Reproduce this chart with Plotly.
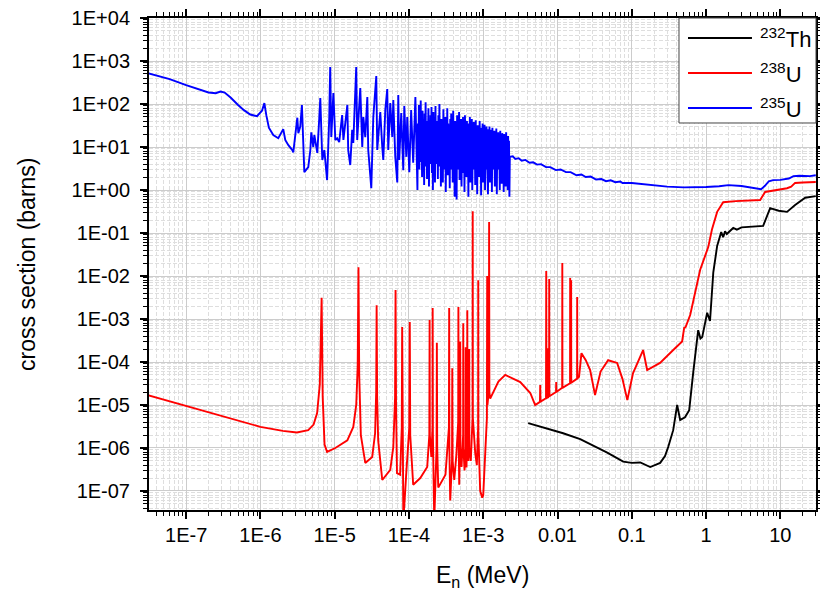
import plotly.graph_objects as go

# ---------------- data (energy in MeV, cross section in barns) ----------------
series_names = ["<sup>232</sup>Th", "<sup>238</sup>U", "<sup>235</sup>U"]
series_colors = ["#000000", "#ff0000", "#0000ff"]

th232_points = [
    (4.03e-3, 3.8e-6), (1.19e-2, 2.2e-6), (2.02e-2, 1.6e-6), (4.67e-2, 7.8e-7),
    (7.66e-2, 4.8e-7), (0.1, 4.5e-7), (0.13, 4.6e-7), (0.177, 3.6e-7),
    (0.241, 4.5e-7), (0.28, 6.5e-7), (0.309, 1.05e-6), (0.361, 2.6e-6),
    (0.408, 1.0e-5), (0.448, 4.5e-6), (0.52, 5.2e-6), (0.593, 7.6e-6),
    (0.67, 5.5e-5), (0.783, 5.5e-4), (0.84, 3.5e-4), (0.887, 3.8e-4),
    (1.035, 1.4e-3), (1.13, 9.0e-4), (1.25, 1.2e-2), (1.41, 5.0e-2),
    (1.6, 0.105), (1.7, 0.08), (1.8, 0.11), (1.9, 0.095), (2.32, 0.131),
    (2.6, 0.12), (3.0, 0.135), (3.57, 0.138), (5.87, 0.146), (7.29, 0.38),
    (9.5, 0.33), (12.3, 0.31), (15.8, 0.45), (21.6, 0.66), (30.0, 0.72),
]

u238_points = [
    (3.0e-8, 1.7e-5), (1.0e-7, 9.5e-6), (3.0e-7, 5.5e-6), (1.0e-6, 3.1e-6),
    (2.0e-6, 2.5e-6), (3.1e-6, 2.3e-6), (4.4e-6, 2.6e-6), (5.2e-6, 3.5e-6),
    (5.8e-6, 6.5e-6), (6.3e-6, 3.0e-5), (6.67e-6, 3.1e-3), (6.9e-6, 1.5e-5),
    (7.3e-6, 1.2e-6), (7.9e-6, 8.1e-7), (1.02e-5, 1.0e-6), (1.48e-5, 1.5e-6),
    (1.78e-5, 3.1e-6), (1.95e-5, 1.0e-5), (2.04e-5, 8.0e-5), (2.09e-5, 1.6e-2),
    (2.14e-5, 5.0e-5), (2.25e-5, 2.0e-6), (2.58e-5, 4.5e-7), (3.2e-5, 6.2e-7),
    (3.5e-5, 2.2e-6), (3.62e-5, 2.0e-5), (3.67e-5, 2.1e-3), (3.73e-5, 1.5e-5),
    (3.85e-5, 1.5e-6), (4.37e-5, 1.8e-7), (5.6e-5, 3.1e-7), (6.15e-5, 1.05e-6),
    (6.5e-5, 1.5e-5), (6.6e-5, 4.7e-3), (6.7e-5, 1.0e-5), (6.9e-5, 2.6e-7),
    (7.6e-5, 2.4e-7), (8.0e-5, 3.0e-6), (8.1e-5, 6.5e-4), (8.25e-5, 1.0e-6),
    (8.4e-5, 2.0e-8), (9.2e-5, 2.6e-7), (1.01e-4, 3.0e-6), (1.025e-4, 8.5e-4),
    (1.04e-4, 2.0e-6), (1.14e-4, 1.4e-7), (1.42e-4, 2.0e-7), (1.76e-4, 3.6e-7),
    (1.88e-4, 2.0e-6), (1.897e-4, 9.5e-4), (1.91e-4, 2.0e-6), (2.0e-4, 6.2e-7),
    (2.075e-4, 3.0e-6), (2.085e-4, 1.8e-3), (2.1e-4, 2.0e-6), (2.19e-4, 2.0e-8),
    (2.35e-4, 1.0e-6), (2.374e-4, 2.8e-4), (2.4e-4, 1.0e-6), (2.48e-4, 1.2e-7),
    (3.1e-4, 2.4e-7), (3.45e-4, 3.0e-6), (3.478e-4, 1.8e-3), (3.5e-4, 1.0e-6),
    (3.59e-4, 6.0e-8), (3.8e-4, 5.0e-7), (3.83e-4, 7.2e-5), (3.87e-4, 5.0e-7),
    (4.07e-4, 1.8e-7), (4.35e-4, 7.0e-7), (4.6e-4, 4.0e-6), (4.63e-4, 1.9e-3),
    (4.66e-4, 2.0e-6), (4.75e-4, 1.4e-7), (4.88e-4, 2.0e-6), (4.9e-4, 3.0e-4),
    (4.93e-4, 1.0e-6), (5.1e-4, 3.6e-7), (5.36e-4, 2.0e-6), (5.38e-4, 8.0e-4),
    (5.41e-4, 1.0e-6), (5.6e-4, 3.0e-7), (5.78e-4, 1.0e-6), (5.8e-4, 2.2e-4),
    (5.83e-4, 1.0e-6), (5.95e-4, 3.5e-7), (6.08e-4, 3.0e-6), (6.1e-4, 1.6e-3),
    (6.13e-4, 2.0e-6), (6.3e-4, 5.0e-7), (6.46e-4, 2.0e-6), (6.48e-4, 2.0e-4),
    (6.5e-4, 1.0e-6), (6.8e-4, 5.0e-7), (7.18e-4, 5.0e-6), (7.216e-4, 0.32),
    (7.25e-4, 5.0e-6), (7.8e-4, 7.6e-7), (8.2e-4, 4.0e-7), (8.53e-4, 3.0e-6),
    (8.56e-4, 8.0e-3), (8.6e-4, 2.0e-6), (9.1e-4, 1.0e-7), (9.7e-4, 7.0e-8),
    (1.0e-3, 8.0e-8), (1.06e-3, 1.05e-6), (1.12e-3, 5.0e-6), (1.13e-3, 1.0e-2),
    (1.14e-3, 1.0e-5), (1.165e-3, 1.5e-5), (1.19e-3, 2.0e-5), (1.2e-3, 0.18),
    (1.21e-3, 2.0e-5), (1.24e-3, 1.4e-5), (1.6e-3, 3.5e-5), (1.98e-3, 5.0e-5),
    (3.15e-3, 3.4e-5), (4.3e-3, 1.9e-5), (5.0e-3, 1.0e-5), (5.8e-3, 1.18e-5),
    (5.85e-3, 2.9e-5), (5.9e-3, 1.2e-5), (7.0e-3, 1.44e-5), (7.05e-3, 1.3e-2),
    (7.1e-3, 1.45e-5), (7.45e-3, 1.5e-5), (7.5e-3, 2.1e-4), (7.55e-3, 1.55e-5),
    (7.7e-3, 1.6e-5), (7.73e-3, 8.5e-3), (7.77e-3, 1.6e-5), (9.55e-3, 2.0e-5),
    (9.6e-3, 3.4e-5), (9.65e-3, 2.0e-5), (1.155e-2, 2.5e-5), (1.16e-2, 2.0e-2),
    (1.165e-2, 2.5e-5), (1.475e-2, 3.2e-5), (1.48e-2, 9.0e-3), (1.485e-2, 3.2e-5),
    (1.52e-2, 3.3e-5), (1.525e-2, 8.0e-3), (1.53e-2, 3.3e-5), (1.835e-2, 4.1e-5),
    (1.84e-2, 3.25e-3), (1.845e-2, 4.1e-5), (1.95e-2, 4.5e-5), (2.1e-2, 1.6e-4),
    (2.4e-2, 1.1e-4), (2.75e-2, 6.5e-5), (3.2e-2, 1.7e-5), (3.8e-2, 6.0e-5),
    (4.8e-2, 1.1e-4), (6.35e-2, 9.5e-5), (7.5e-2, 4.0e-5), (8.7e-2, 1.3e-5),
    (0.104, 5.5e-5), (0.142, 1.9e-4), (0.161, 6.5e-5), (0.24, 9.5e-5),
    (0.35, 1.8e-4), (0.476, 3.0e-4), (0.507, 6.2e-4), (0.53, 6.5e-4),
    (0.611, 1.24e-3), (0.7, 3.5e-3), (0.833, 1.4e-2), (1.07, 4.7e-2),
    (1.2, 0.12), (1.41, 0.31), (1.7, 0.52), (2.5, 0.55), (4.0, 0.57),
    (5.35, 0.585), (6.24, 0.9), (8.0, 0.98), (12.3, 1.1), (14.0, 1.2),
    (15.8, 1.46), (20.0, 1.5), (30.0, 1.53),
]

# 235U: thermal / first resonances
u235_low_points = [
    (3.0e-8, 525), (6.0e-8, 380), (1.0e-7, 275), (1.5e-7, 215), (2.0e-7, 185),
    (2.5e-7, 178), (2.9e-7, 195), (3.3e-7, 185), (4.0e-7, 140), (5.0e-7, 95),
    (6.0e-7, 72), (7.3e-7, 57), (9.0e-7, 52), (1.05e-6, 70), (1.13e-6, 105),
    (1.2e-6, 55), (1.3e-6, 28), (1.49e-6, 19), (1.74e-6, 16), (2.03e-6, 26),
    (2.16e-6, 14.6), (2.38e-6, 11), (2.69e-6, 8.5), (2.77e-6, 7.5), (3.14e-6, 48),
    (3.24e-6, 21), (3.44e-6, 30), (3.62e-6, 95), (3.9e-6, 2.6), (4.41e-6, 3.4),
    (4.7e-6, 8.5), (4.84e-6, 22), (5.15e-6, 10), (5.32e-6, 19), (5.83e-6, 7.3),
    (6.21e-6, 50), (6.4e-6, 138), (6.81e-6, 5), (7.25e-6, 8.5), (7.9e-6, 1.7),
    (8.45e-6, 50), (8.7e-6, 725), (9.0e-6, 17), (9.6e-6, 180), (1.02e-5, 14.6),
    (1.08e-5, 16), (1.15e-5, 13), (1.26e-5, 55), (1.31e-5, 14.6), (1.48e-5, 95),
    (1.52e-5, 8.5), (1.62e-5, 3.8), (1.72e-5, 25), (1.78e-5, 12.4), (1.95e-5, 725),
    (2.01e-5, 14.6), (2.21e-5, 235), (2.35e-5, 10), (2.43e-5, 50), (2.58e-5, 17),
    (2.75e-5, 145), (2.83e-5, 8.5), (3.11e-5, 1.1), (3.31e-5, 50), (3.63e-5, 448),
    (3.74e-5, 8.5), (4.11e-5, 65), (4.37e-5, 10), (4.51e-5, 5), (4.8e-5, 72),
    (5.1e-5, 223), (5.26e-5, 8.5), (5.6e-5, 105), (5.96e-5, 17), (6.15e-5, 124),
    (6.54e-5, 5.9), (6.96e-5, 1.5), (7.18e-5, 162), (7.4e-5, 5), (7.87e-5, 62),
    (8.38e-5, 2.9), (8.65e-5, 90), (9.2e-5, 5.9), (9.48e-5, 50), (1.01e-4, 2.6),
    (1.07e-4, 72), (1.14e-4, 4.3), (1.22e-4, 145), (1.26e-4, 9),
]

# 235U: dense resolved-resonance band, 130 eV - 2.25 keV
u235_dense_points = [
    (130e-6, 1.0), (132e-6, 35), (134e-6, 6), (136e-6, 95), (138e-6, 3),
    (140e-6, 50), (142e-6, 8), (144e-6, 120), (146e-6, 4.5), (148e-6, 25),
    (150e-6, 2.0), (152.5e-6, 70), (155e-6, 5), (157.5e-6, 30), (160e-6, 1.3),
    (162.5e-6, 60), (165e-6, 7), (167.5e-6, 110), (170e-6, 3.5), (172.5e-6, 40),
    (175e-6, 1.8), (177.5e-6, 22), (180e-6, 6), (183e-6, 80), (186e-6, 1.2),
    (189e-6, 30), (192e-6, 4), (195e-6, 55), (198e-6, 9), (201e-6, 85),
    (204e-6, 2.5), (207e-6, 35), (210e-6, 1.0), (213.5e-6, 65), (217e-6, 5),
    (220.5e-6, 25), (224e-6, 1.5), (227.5e-6, 90), (231e-6, 4), (234.5e-6, 40),
    (238e-6, 8), (241.5e-6, 20), (245e-6, 1.8), (249e-6, 55), (253e-6, 3.5),
    (257e-6, 100), (261e-6, 6), (265e-6, 30), (269e-6, 1.2), (273e-6, 45),
    (277e-6, 5), (281.5e-6, 18), (286e-6, 1.5), (290.5e-6, 75), (295e-6, 3),
    (299.5e-6, 28), (304e-6, 7), (308.5e-6, 50), (313e-6, 0.9), (318e-6, 22),
    (323e-6, 4), (328e-6, 80), (333e-6, 2.2), (338e-6, 35), (343e-6, 6),
    (348.5e-6, 15), (354e-6, 1.1), (359.5e-6, 45), (365e-6, 3), (370.5e-6, 60),
    (376e-6, 8), (382e-6, 25), (388e-6, 1.5), (394e-6, 70), (400e-6, 4),
    (406e-6, 30), (412e-6, 0.7), (418.5e-6, 40), (425e-6, 5), (431.5e-6, 18),
    (438e-6, 0.6), (445e-6, 55), (452e-6, 3), (459e-6, 25), (466e-6, 7),
    (473e-6, 65), (480e-6, 1.7), (487.5e-6, 30), (495e-6, 4), (502.5e-6, 45),
    (510e-6, 1.2), (518e-6, 20), (526e-6, 6), (534e-6, 50), (542e-6, 2.5),
    (550.5e-6, 28), (559e-6, 0.9), (567.5e-6, 55), (576e-6, 5), (585e-6, 18),
    (594e-6, 2), (603e-6, 40), (612e-6, 6), (621.5e-6, 25), (631e-6, 0.7),
    (640.5e-6, 35), (650e-6, 3.5), (660e-6, 50), (670e-6, 1.5), (680.5e-6, 22),
    (691e-6, 5), (701.5e-6, 45), (712e-6, 1.0), (723e-6, 15), (734e-6, 3),
    (745.5e-6, 38), (757e-6, 7), (768.5e-6, 20), (780e-6, 1.3), (792e-6, 42),
    (804e-6, 4), (816.5e-6, 25), (829e-6, 0.8), (842e-6, 32), (855e-6, 5),
    (868e-6, 14), (881e-6, 2), (894.5e-6, 40), (908e-6, 6), (922e-6, 20),
    (936e-6, 0.75), (950.5e-6, 28), (965e-6, 3.5), (980e-6, 35), (995e-6, 1.5),
    (1010e-6, 18), (1025e-6, 5), (1041e-6, 33), (1057e-6, 1.0), (1073.5e-6, 22),
    (1090e-6, 3), (1106.5e-6, 30), (1123e-6, 6), (1140.5e-6, 14), (1158e-6, 0.8),
    (1176e-6, 26), (1194e-6, 4), (1212.5e-6, 30), (1231e-6, 1.5), (1250e-6, 17),
    (1269e-6, 5), (1288.5e-6, 25), (1308e-6, 0.9), (1328.5e-6, 28), (1349e-6, 3),
    (1369.5e-6, 13), (1390e-6, 6), (1411.5e-6, 24), (1433e-6, 1.2), (1455.5e-6, 20),
    (1478e-6, 4), (1500.5e-6, 27), (1523e-6, 0.8), (1546.5e-6, 15), (1570e-6, 3),
    (1594.5e-6, 22), (1619e-6, 5.5), (1644e-6, 12), (1669e-6, 1.0), (1695e-6, 24),
    (1721e-6, 3.5), (1747.5e-6, 16), (1774e-6, 1.4), (1801.5e-6, 21), (1829e-6, 5),
    (1857e-6, 12), (1885e-6, 0.9), (1914e-6, 20), (1943e-6, 3), (1973e-6, 16),
    (2003e-6, 1.2), (2034e-6, 22), (2065e-6, 4.5), (2097e-6, 13), (2129e-6, 1.0),
    (2162e-6, 18), (2195e-6, 3), (2222e-6, 14), (2250e-6, 0.7),
]

# 235U: unresolved / fast region
u235_high_points = [
    (2.28e-3, 5.9), (2.5e-3, 6.1), (2.7e-3, 5.3), (3.0e-3, 5.5), (3.3e-3, 4.8),
    (3.7e-3, 5.0), (4.2e-3, 4.3), (4.7e-3, 4.4), (5.3e-3, 3.9), (6.0e-3, 4.0),
    (7.0e-3, 3.4), (8.0e-3, 3.4), (9.5e-3, 2.9), (1.1e-2, 3.0), (1.3e-2, 2.6),
    (1.5e-2, 2.6), (1.8e-2, 2.2), (2.1e-2, 2.3), (2.4e-2, 2.0), (2.8e-2, 2.05),
    (3.3e-2, 1.75), (3.9e-2, 1.8), (4.5e-2, 1.6), (5.2e-2, 1.68), (6.0e-2, 1.52),
    (7.0e-2, 1.58), (7.5e-2, 1.45), (0.1, 1.45), (0.15, 1.35), (0.2, 1.28),
    (0.3, 1.2), (0.5, 1.15), (0.8, 1.14), (1.0, 1.17), (1.5, 1.22), (2.0, 1.3),
    (3.0, 1.24), (4.5, 1.1), (5.5, 1.04), (6.2, 1.25), (7.0, 1.6), (8.0, 1.7),
    (10.0, 1.72), (13.0, 1.85), (15.0, 2.1), (18.0, 2.15), (25.0, 2.1), (30.0, 2.2),
]

x_tick_values = [1e-7, 1e-6, 1e-5, 1e-4, 1e-3, 1e-2, 1e-1, 1, 10]
x_tick_labels = ["1E-7", "1E-6", "1E-5", "1E-4", "1E-3", "0.01", "0.1", "1", "10"]
y_tick_values = [1e4, 1e3, 1e2, 1e1, 1e0, 1e-1, 1e-2, 1e-3, 1e-4, 1e-5, 1e-6, 1e-7]
y_tick_labels = ["1E+04", "1E+03", "1E+02", "1E+01", "1E+00", "1E-01",
                 "1E-02", "1E-03", "1E-04", "1E-05", "1E-06", "1E-07"]

# ---------------- figure ----------------
u235_points = u235_low_points + u235_dense_points + u235_high_points
all_series = [th232_points, u238_points, u235_points]

fig = go.Figure()
for i in [2, 1, 0]:  # blue under red under black
    pts = all_series[i]
    fig.add_trace(go.Scatter(x=[p[0] for p in pts], y=[p[1] for p in pts],
                             mode="lines", name=series_names[i],
                             line=dict(color=series_colors[i], width=1.9),
                             showlegend=False))

x_minor = [m * 10.0 ** k for k in range(-9, 2) for m in range(2, 10)]
y_minor = [m * 10.0 ** k for k in range(-9, 4) for m in range(2, 10)]

common = dict(type="log", showline=True, linecolor="black", linewidth=2,
              mirror="allticks", ticks="outside", ticklen=7, tickwidth=1.5,
              tickcolor="black", showgrid=True, gridcolor="#cccccc", gridwidth=1,
              zeroline=False, tickfont=dict(size=20, color="black"),
              tickmode="array", automargin=False)
minor_common = dict(ticks="outside", ticklen=4, tickcolor="black", tickwidth=1.2,
                    showgrid=True, gridcolor="#dedede", griddash="4px,2px",
                    gridwidth=1)

fig.update_xaxes(range=[-7.5, 1.48], tickvals=x_tick_values, ticktext=x_tick_labels,
                 ticklabelstandoff=-1, minor=dict(tickvals=x_minor, **minor_common),
                 **common)
fig.update_yaxes(range=[-7.442, 4.0], tickvals=y_tick_values, ticktext=y_tick_labels,
                 ticklabelstandoff=6, minor=dict(tickvals=y_minor, **minor_common),
                 **common)

# axis titles
fig.add_annotation(text="E<sub>n</sub> (MeV)", xref="paper", yref="paper",
                   x=0.5, y=-0.136, xanchor="center", yanchor="middle",
                   showarrow=False, font=dict(size=23, color="black"))
fig.add_annotation(text="cross section (barns)", xref="paper", yref="paper",
                   x=-0.183, y=0.5, xanchor="center", yanchor="middle",
                   textangle=-90, showarrow=False, font=dict(size=23, color="black"))

# legend box (drawn manually to match the long line samples)
fig.add_shape(type="rect", xref="paper", yref="paper", x0=0.7946, x1=1.0,
              y0=0.7866, y1=1.0, line=dict(color="#444444", width=1),
              fillcolor="white", layer="above")
legend_rows = [0.9593, 0.8882, 0.8171]
for i, yrow in enumerate(legend_rows):
    fig.add_shape(type="line", xref="paper", yref="paper", x0=0.8081, x1=0.9040,
                  y0=yrow, y1=yrow, line=dict(color=series_colors[i], width=2),
                  layer="above")
    fig.add_annotation(text=series_names[i], xref="paper", yref="paper",
                       x=0.913, y=yrow, xanchor="left", yanchor="middle",
                       showarrow=False, font=dict(size=22, color="black"))

fig.update_layout(width=820, height=594, margin=dict(l=149, r=4, t=18, b=84),
                  paper_bgcolor="white", plot_bgcolor="white",
                  font=dict(family="Arial, Liberation Sans, sans-serif", color="black"),
                  showlegend=False)

fig.write_html("out.html")
